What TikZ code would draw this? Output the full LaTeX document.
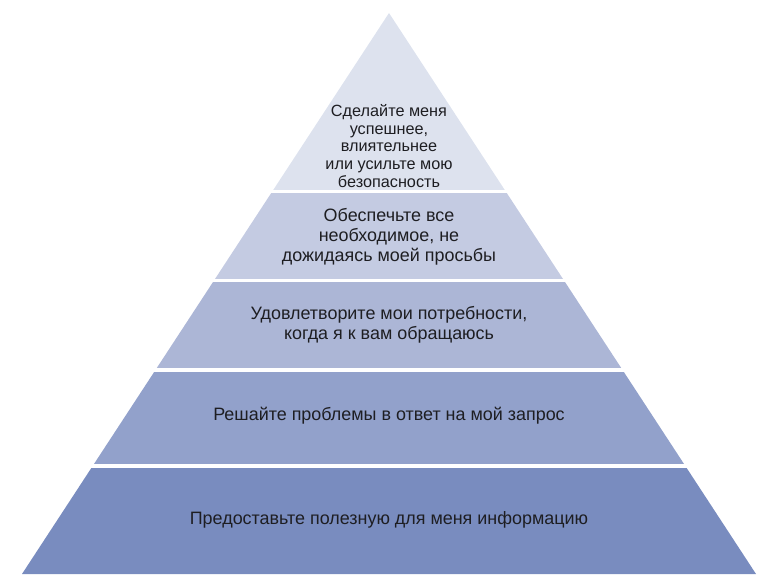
\documentclass[tikz,border=0pt]{standalone}
\usepackage{fontspec}
\setmainfont{Liberation Sans}
\usetikzlibrary{calc}

\definecolor{tierA}{RGB}{221,226,238}
\definecolor{tierB}{RGB}{196,203,226}
\definecolor{tierC}{RGB}{172,182,214}
\definecolor{tierD}{RGB}{146,161,203}
\definecolor{tierE}{RGB}{121,140,191}
\definecolor{tiertext}{RGB}{30,30,34}

\begin{document}
\begin{tikzpicture}[
			x=1bp, y=-1bp,
			every node/.style={font=\fontsize{18}{20}\selectfont, text=tiertext, align=center},
			toplabel/.style={font=\fontsize{16.3}{17.7}\selectfont},
			line join=round
			]
			\useasboundingbox (0,0) rectangle (768,582);
			\coordinate (apex) at (389,13);
			\coordinate (bl) at (22,574);
			\coordinate (br) at (756,574);
			
			\begin{scope}
				\clip (apex) -- (bl) -- (br) -- cycle;
				\fill[tierA] (0,0) rectangle (768,190);
				\fill[tierB] (0,193) rectangle (768,279);
				\fill[tierC] (0,282) rectangle (768,368);
				\fill[tierD] (0,372) rectangle (768,464);
				\fill[tierE] (0,468) rectangle (768,575);
			\end{scope}
			
			\node[toplabel] (t1) at (389,146) {Сделайте меня\\успешнее,\\влиятельнее\\или усильте мою\\безопасность};
			\node (t2) at (389,237) {Обеспечьте все\\необходимое, не\\дожидаясь моей просьбы};
			\node (t3) at (389,325) {Удовлетворите мои потребности,\\когда я к вам обращаюсь};
			\node (t4) at (389,416) {Решайте проблемы в ответ на мой запрос};
			\node (t5) at (389,520) {Предоставьте полезную для меня информацию};
		\end{tikzpicture}
\end{document}
